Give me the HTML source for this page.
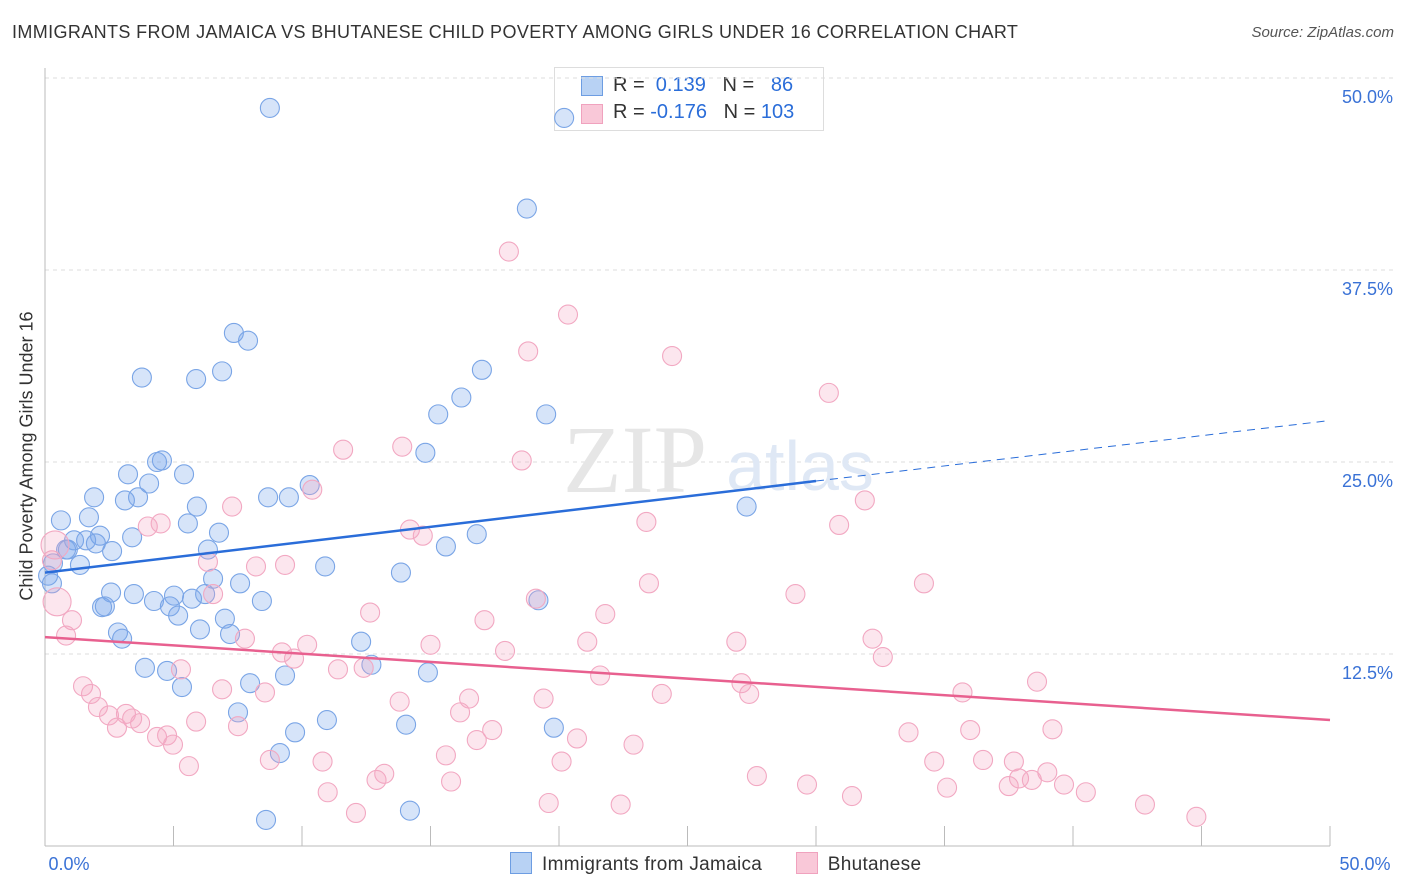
<!DOCTYPE html>
<html><head><meta charset="utf-8"><style>
body{margin:0;background:#fff;font-family:"Liberation Sans",sans-serif;}
#wrap{position:relative;width:1406px;height:892px;overflow:hidden;}
</style></head><body>
<div id="wrap">
<svg id="svg" width="1406" height="892" style="position:absolute;left:0;top:0;z-index:1"></svg>
<script>
const xTicks=[0,5,10,15,20,25,30,35,40,45,50];
const yTicks=[12.5,25,37.5,50];
const yTickLabels=["12.5%","25.0%","37.5%","50.0%"];
const blueX=[8.75,18.75,7.35,7.9,3.77,5.88,6.89,17.0,16.2,15.3,19.5,14.8,4.36,4.55,5.41,3.23,4.05,10.3,1.91,3.62,3.11,5.91,8.68,9.49,0.62,1.71,5.56,6.77,27.3,2.14,3.39,1.13,1.6,2.61,1.98,6.34,0.82,0.89,15.6,16.8,0.31,1.36,0.12,0.27,10.9,13.85,6.54,7.59,2.57,3.46,5.02,4.24,5.72,6.23,8.44,2.33,2.22,4.86,5.18,19.2,7.0,2.84,6.03,7.2,3.0,12.3,3.89,4.75,12.7,9.34,5.33,14.9,7.98,7.51,10.97,14.05,9.73,19.8,9.14,14.2,8.6,20.2];
const blueY=[48.05,41.5,33.4,32.9,30.5,30.4,30.9,31.0,29.2,28.1,28.1,25.6,25.0,25.1,24.2,24.2,23.6,23.5,22.7,22.7,22.5,22.1,22.7,22.7,21.2,21.4,21.0,20.4,22.1,20.2,20.1,19.9,19.9,19.2,19.7,19.3,19.3,19.3,19.5,20.3,18.4,18.3,17.6,17.1,18.2,17.8,17.4,17.1,16.5,16.4,16.3,15.95,16.1,16.4,15.95,15.6,15.55,15.6,15.0,16.0,14.8,13.9,14.1,13.8,13.5,13.3,11.6,11.4,11.8,11.1,10.35,11.3,10.6,8.7,8.2,7.9,7.4,7.7,6.05,2.3,1.7,47.4];
const pinkX=[18.05,20.35,18.8,24.4,30.5,11.6,13.9,18.55,10.4,7.28,31.9,30.9,4.0,4.5,23.4,14.2,14.7,0.39,0.27,6.34,9.34,8.21,23.5,34.2,29.2,19.1,0.47,6.54,12.65,17.1,21.8,1.05,0.82,7.78,21.1,26.9,32.2,10.2,15.0,9.22,9.69,17.9,32.6,5.29,11.4,12.4,21.6,1.48,1.79,6.89,8.56,27.1,27.4,24.0,35.7,38.6,13.8,16.5,19.4,2.06,2.49,3.15,3.39,2.8,3.7,5.88,7.51,16.15,17.4,4.36,4.75,4.98,16.8,20.7,22.9,33.6,36.0,39.2,15.6,20.1,5.6,8.75,10.8,34.6,36.5,37.7,39.0,27.7,13.2,12.9,15.8,37.9,38.4,39.65,37.5,35.1,29.65,40.5,11.0,31.4,19.6,22.4,12.1,42.8,44.8];
const pinkY=[38.7,34.6,32.2,31.9,29.5,25.8,26.0,25.1,23.2,22.1,22.5,20.9,20.8,21.0,21.1,20.6,20.2,19.6,18.6,18.5,18.3,18.2,17.1,17.1,16.4,16.1,15.9,16.4,15.2,14.7,15.1,14.7,13.7,13.5,13.3,13.3,13.5,13.1,13.1,12.6,12.2,12.7,12.3,11.5,11.5,11.6,11.1,10.4,9.9,10.2,10.0,10.6,9.9,9.9,10.0,10.7,9.4,9.6,9.6,9.05,8.5,8.6,8.3,7.7,8.0,8.1,7.8,8.7,7.55,7.1,7.2,6.6,6.9,7.0,6.6,7.4,7.55,7.6,5.9,5.5,5.2,5.6,5.5,5.5,5.6,5.5,4.8,4.55,4.7,4.3,4.2,4.4,4.3,4.0,3.9,3.8,4.0,3.5,3.5,3.25,2.8,2.7,2.15,2.7,1.9];
const pinkBig=[17,26];
const blueTrend=[[0,17.8],[30,23.76]];
const blueTrendExt=[[30,23.76],[50,27.7]];
const pinkTrend=[[0,13.6],[50,8.2]];

const X0=45,X1=1330,Y0=846,Y1=78;
const sx=v=>X0+(X1-X0)*v/50;
const sy=v=>Y0-(Y0-Y1)*v/50;
const svg=document.getElementById('svg');
const NS='http://www.w3.org/2000/svg';
function mk(tag,attrs,parent){const e=document.createElementNS(NS,tag);for(const k in attrs)e.setAttribute(k,attrs[k]);(parent||svg).appendChild(e);return e;}

yTicks.forEach((t,i)=>{
  const g=mk('line',{x1:X0,x2:1395,y1:sy(t),y2:sy(t),stroke:'#ddd','stroke-dasharray':'4,4'});
  
  
  const l=mk('text',{x:1393,y:sy(t)+25,'text-anchor':'end','font-size':18,fill:'#3a72d6'});
  l.textContent=yTickLabels[i];
  
  
});
const ax=mk('line',{x1:X0,x2:X1,y1:Y0,y2:Y0,stroke:'#bbb'});


const ay=mk('line',{x1:X0,x2:X0,y1:68,y2:Y0,stroke:'#bbb'});


xTicks.forEach(t=>{
  const tk=mk('line',{x1:sx(t),x2:sx(t),y1:826,y2:Y0,stroke:'#bbb'});
  
  
});
const wm=mk('text',{x:635,y:492,'text-anchor':'middle','font-size':96,fill:'#e6e6e6','font-family':'Liberation Serif'});
wm.textContent='ZIP';


const wm2=mk('text',{x:800,y:490,'text-anchor':'middle','font-size':70,fill:'#dfe8f5'});
wm2.textContent='atlas';



blueX.forEach((x,i)=>{
  const c=mk('circle',{cx:sx(x),cy:sy(blueY[i]),r:9.5,fill:'rgba(120,165,235,0.3)',stroke:'#7aa5e6','stroke-width':1.1});
  
  
});
pinkX.forEach((x,i)=>{
  const c=mk('circle',{cx:sx(x),cy:sy(pinkY[i]),r:pinkBig.includes(i)?14:9.5,fill:'rgba(245,165,195,0.28)',stroke:'#f2a8c2','stroke-width':1.1});
  
  
});
function line(pts,col,dash,name){
  const l=mk('line',{x1:sx(pts[0][0]),y1:sy(pts[0][1]),x2:sx(pts[1][0]),y2:sy(pts[1][1]),stroke:col,'stroke-width':dash?1:2.5});
  if(dash)l.setAttribute('stroke-dasharray','8,6');
  
  
}
line(blueTrend,'#2a6dd9',false,'jamaica-trend-line');
line(blueTrendExt,'#2a6dd9',true,'jamaica-trend-extension');
line(pinkTrend,'#e8608f',false,'bhutanese-trend-line');

[[0,'0.0%',X0+24],[50,'50.0%',1365]].forEach(d=>{
  const t=mk('text',{x:d[2],y:870,'text-anchor':'middle','font-size':18,fill:'#3a72d6'});
  t.textContent=d[1];
  
  
});
</script>
<div style="position:absolute;left:12px;top:22px;font-size:18px;letter-spacing:0.38px;color:#333;">IMMIGRANTS FROM JAMAICA VS BHUTANESE CHILD POVERTY AMONG GIRLS UNDER 16 CORRELATION CHART</div>
<div style="position:absolute;right:12px;top:24px;font-size:15px;color:#555;font-style:italic;">Source: ZipAtlas.com</div>
<div style="position:absolute;left:27px;top:456px;transform:translate(-50%,-50%) rotate(-90deg);font-size:18px;color:#333;white-space:nowrap;">Child Poverty Among Girls Under 16</div>
<div style="position:absolute;left:554px;top:67px;width:268px;height:62px;border:1px solid #ddd;background:rgba(255,255,255,0.6);font-size:20px;color:#333;z-index:0;">
 <div style="position:absolute;left:26px;top:8px;width:20px;height:18px;background:#b8d2f4;border:1px solid #6d9de2;"></div>
 <div style="position:absolute;left:58px;top:6px;">R = <span style="color:#2a6dd9">&nbsp;0.139</span>&nbsp;&nbsp;&nbsp;N = <span style="color:#2a6dd9">&nbsp;&nbsp;86</span></div>
 <div style="position:absolute;left:26px;top:36px;width:20px;height:18px;background:#f9c8d8;border:1px solid #f0a2be;"></div>
 <div style="position:absolute;left:58px;top:33px;">R = <span style="color:#2a6dd9">-0.176</span>&nbsp;&nbsp;&nbsp;N = <span style="color:#2a6dd9">103</span></div>
</div>
<div style="position:absolute;left:510px;top:852px;font-size:19px;letter-spacing:0.3px;color:#333;">
 <span style="display:inline-block;"><span style="display:inline-block;width:20px;height:20px;background:#b8d2f4;border:1px solid #6d9de2;vertical-align:-4px;margin-right:10px;"></span>Immigrants from Jamaica</span>
 <span style="display:inline-block;margin-left:28px;"><span style="display:inline-block;width:20px;height:20px;background:#f9c8d8;border:1px solid #f0a2be;vertical-align:-4px;margin-right:10px;"></span>Bhutanese</span>
</div>
</div>
</body></html>
